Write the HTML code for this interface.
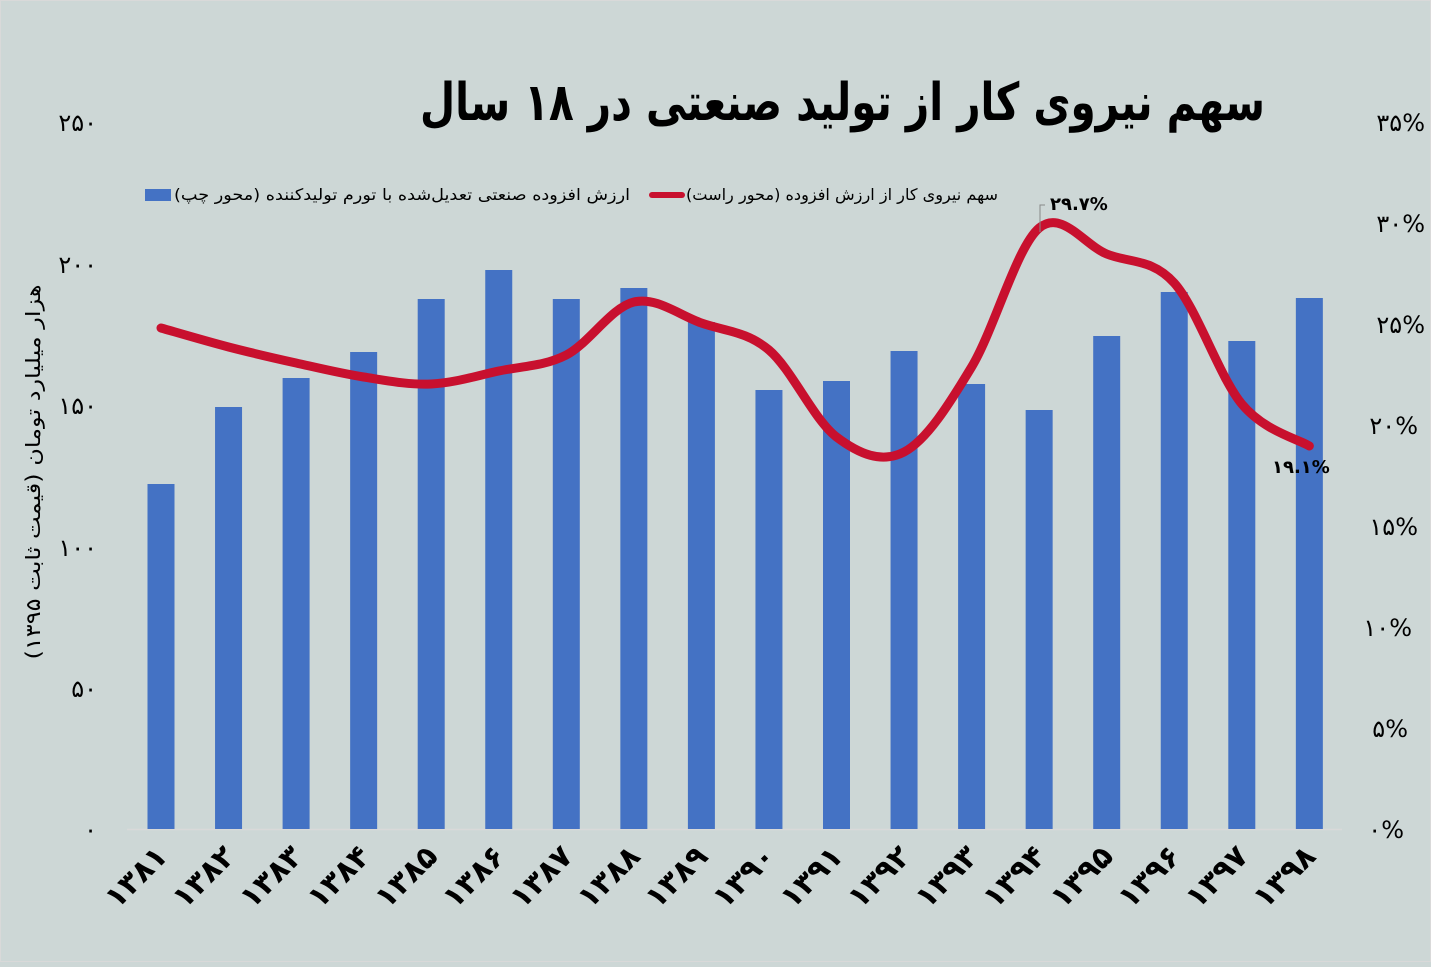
<!DOCTYPE html>
<html><head><meta charset="utf-8">
<style>
html,body{margin:0;padding:0;background:#cdd7d6;}
body{width:1431px;height:962px;overflow:hidden;font-family:"Liberation Sans","DejaVu Sans",sans-serif;}
svg text{font-family:"DejaVu Sans","Liberation Sans",sans-serif;}
</style></head><body>
<svg id="c" width="1431" height="962" xmlns="http://www.w3.org/2000/svg">
<rect width="1431" height="962" fill="#cdd7d6"/>
<rect x="0.5" y="0.5" width="1430" height="961" fill="none" stroke="#d9d9d9"/>
<text x="1265" y="120" text-anchor="start" font-size="52" font-weight="bold" fill="#000" direction="rtl" unicode-bidi="embed" textLength="845" lengthAdjust="spacingAndGlyphs">سهم نیروی کار از تولید صنعتی در ۱۸ سال</text>
<g font-size="24" fill="#000">
<text x="97" y="131" text-anchor="end">۲۵۰</text>
<text x="97" y="273" text-anchor="end">۲۰۰</text>
<text x="97" y="414" text-anchor="end">۱۵۰</text>
<text x="97" y="556" text-anchor="end">۱۰۰</text>
<text x="97" y="697" text-anchor="end">۵۰</text>
<text x="97" y="838" text-anchor="end">۰</text>
<text x="1425" y="131" text-anchor="end">۳۵%</text>
<text x="1425" y="232" text-anchor="end">۳۰%</text>
<text x="1425" y="333" text-anchor="end">۲۵%</text>
<text x="1418" y="434" text-anchor="end">۲۰%</text>
<text x="1418" y="535" text-anchor="end">۱۵%</text>
<text x="1412" y="636" text-anchor="end">۱۰%</text>
<text x="1408" y="737" text-anchor="end">۵%</text>
<text x="1404" y="838" text-anchor="end">۰%</text>
</g>
<text transform="translate(40,472) rotate(-90)" text-anchor="middle" font-size="20" fill="#000" direction="rtl" unicode-bidi="embed" textLength="375" lengthAdjust="spacingAndGlyphs">هزار میلیارد تومان (قیمت ثابت ۱۳۹۵)</text>
<rect x="145" y="189" width="26" height="12" fill="#4472c4"/>
<text x="630" y="200" text-anchor="start" font-size="16" fill="#000" direction="rtl" unicode-bidi="embed" textLength="456" lengthAdjust="spacingAndGlyphs">ارزش افزوده صنعتی تعدیل‌شده با تورم تولیدکننده (محور چپ)</text>
<line x1="652" y1="195" x2="682" y2="195" stroke="#c8102e" stroke-width="6" stroke-linecap="round"/>
<text x="998" y="200" text-anchor="start" font-size="16" fill="#000" direction="rtl" unicode-bidi="embed" textLength="312" lengthAdjust="spacingAndGlyphs">سهم نیروی کار از ارزش افزوده (محور راست)</text>
<line x1="127" y1="829.5" x2="1342" y2="829.5" stroke="#d9d9d9" stroke-width="1.5"/>
<g id="bars" fill="#4472c4"></g>
<path id="ln" fill="none" stroke="#c8102e" stroke-width="9" stroke-linecap="round" stroke-linejoin="round"/>
<polyline points="1040,232 1040,205 1045,205" fill="none" stroke="#888" stroke-width="1"/>
<text x="1050" y="210" font-size="18" font-weight="bold" fill="#000">۲۹.۷%</text>
<text x="1272" y="473" font-size="18" font-weight="bold" fill="#000">۱۹.۱%</text>
<g id="xl" font-size="30" font-weight="bold" fill="#000"></g>
</svg>
<script>
var xs=[],tops=[484,407,378,352,299,270,299,288,322,390,381,351,384,410,336,292,341,298];
var ly=[328,347,363,377,384,371,355,302,323,350,437,452,367,228,254,283,404,446];
var fa=['۱۳۸۱','۱۳۸۲','۱۳۸۳','۱۳۸۴','۱۳۸۵','۱۳۸۶','۱۳۸۷','۱۳۸۸','۱۳۸۹','۱۳۹۰','۱۳۹۱','۱۳۹۲','۱۳۹۳','۱۳۹۴','۱۳۹۵','۱۳۹۶','۱۳۹۷','۱۳۹۸'];
var ns='http://www.w3.org/2000/svg',b=document.getElementById('bars'),xl=document.getElementById('xl');
for(var i=0;i<18;i++){var x=161+i*67.55;xs.push(x);
var r=document.createElementNS(ns,'rect');r.setAttribute('x',x-13.5);r.setAttribute('y',tops[i]);r.setAttribute('width',27);r.setAttribute('height',829-tops[i]);b.appendChild(r);
var t=document.createElementNS(ns,'text');t.setAttribute('transform','translate('+(x+8)+',858) rotate(-45)');t.setAttribute('text-anchor','end');t.textContent=fa[i];xl.appendChild(t);}
var d='M'+xs[0]+','+ly[0];
for(var i=0;i<17;i++){var p0=i?i-1:0,p3=i<16?i+2:17;
var c1x=xs[i]+(xs[i+1]-xs[p0])/6,c1y=ly[i]+(ly[i+1]-ly[p0])/6,c2x=xs[i+1]-(xs[p3]-xs[i])/6,c2y=ly[i+1]-(ly[p3]-ly[i])/6;
d+=' C'+c1x+','+c1y+' '+c2x+','+c2y+' '+xs[i+1]+','+ly[i+1];}
document.getElementById('ln').setAttribute('d',d);
</script>
</body></html>
